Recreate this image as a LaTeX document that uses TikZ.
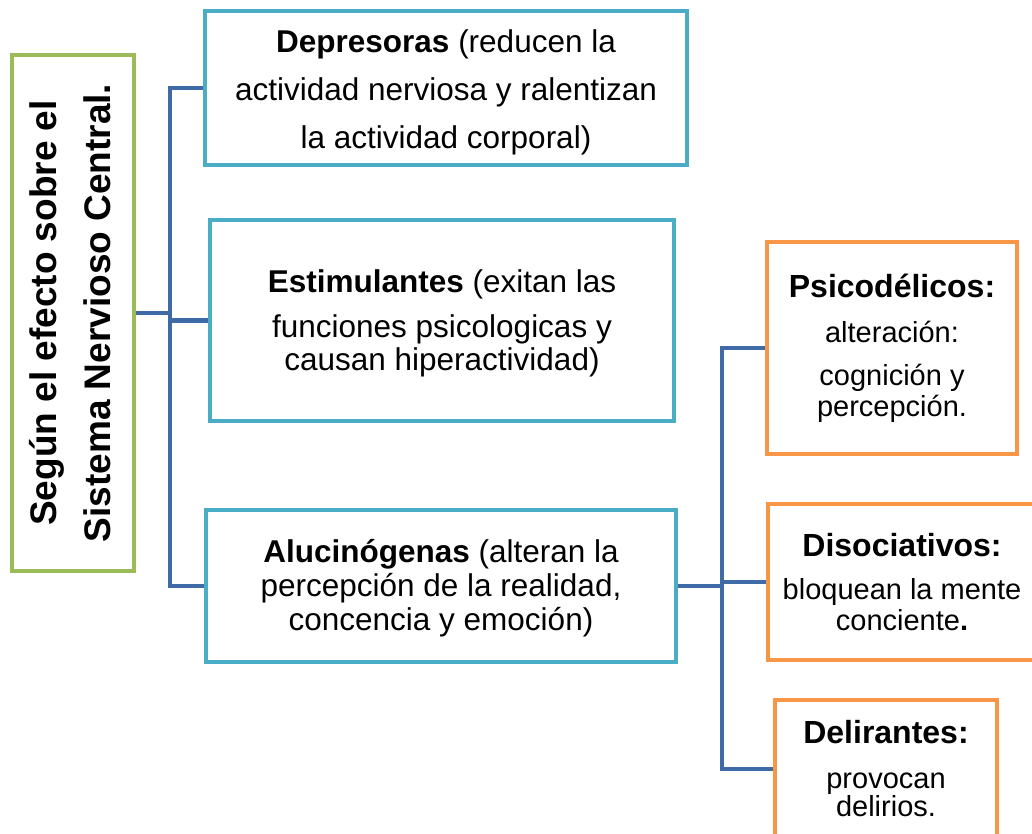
\documentclass[tikz,border=0pt]{standalone}
\usepackage{fontspec}
\setmainfont{Liberation Sans}
\usetikzlibrary{positioning}

\definecolor{raizverde}{HTML}{9BBB59}
\definecolor{cajaazul}{HTML}{4BACC6}
\definecolor{cajanaranja}{HTML}{F79646}
\definecolor{conector}{HTML}{3E6BA5}

\newcommand{\titulosub}[1]{{\fontsize{32}{33}\selectfont\bfseries #1}}

\tikzset{
  raiz/.style={draw=raizverde, line width=4pt, fill=white, inner sep=0pt, align=center,
    font=\fontsize{37}{54}\selectfont\bfseries},
  caja/.style={draw=cajaazul, line width=4pt, fill=white, inner sep=0pt, align=center,
    font=\fontsize{31.5}{33}\selectfont},
  subcaja/.style={draw=cajanaranja, line width=4pt, fill=white, inner sep=0pt, align=center,
    font=\fontsize{29}{31}\selectfont},
  rama/.style={draw=conector, line width=4.5pt}
}

\begin{document}
\begin{tikzpicture}[x=1pt, y=-1pt]
    \useasboundingbox (0,0) rectangle (1032,834);

    % Clasificación principal
    \node[raiz, minimum width=122, minimum height=516] (raiz) at (73,313)
        {\rotatebox{90}{\begin{tabular}{@{}c@{}}Según el efecto sobre el\\Sistema Nervioso Central.\end{tabular}}};

    % Tipos de drogas
    \node[caja, minimum width=482, minimum height=154] (depre) at (446,88)
        {\rule{0pt}{32pt}\textbf{Depresoras} (reducen la\\[15pt] actividad nerviosa y ralentizan\\[15pt] la actividad corporal)};
    \node[caja, minimum width=464, minimum height=201] (estim) at (442,320.5)
        {\rule{0pt}{28pt}\textbf{Estimulantes} (exitan las\\[12pt] funciones psicologicas y\\ causan hiperactividad)};
    \node[caja, minimum width=470, minimum height=152, font=\fontsize{31.5}{34}\selectfont] (aluci) at (441,586)
        {\rule{0pt}{27pt}\textbf{Alucinógenas} (alteran la\\ percepción de la realidad,\\ concencia y emoción)};

    % Subtipos de alucinógenas
    \node[subcaja, minimum width=250, minimum height=212] (psico) at (892,348)
        {\titulosub{Psicodélicos:}\\[14pt] alteración:\\[12pt] cognición y\\ percepción.};
    \node[subcaja, minimum width=268, minimum height=156] (disoc) at (902,582)
        {\titulosub{Disociativos:}\\[12pt] bloquean la mente\\ conciente\textbf{.}};
    \node[subcaja, minimum width=222, minimum height=138] (delir) at (886,769)
        {\titulosub{Delirantes:}\\[14pt] provocan\\[-3pt] delirios.};

    % Conectores
    \coordinate (busA) at (170,0);
    \coordinate (busB) at (722,0);
    \draw[rama] (raiz.east) -- (raiz.east -| busA);
    \draw[rama] (depre.west) -- (depre.west -| busA) -- (aluci.west -| busA) -- (aluci.west);
    \draw[rama] (estim.west) -- (estim.west -| busA);
    \draw[rama] (aluci.east) -- (aluci.east -| busB);
    \draw[rama] (psico.west) -- (psico.west -| busB) -- (delir.west -| busB) -- (delir.west);
    \draw[rama] (disoc.west) -- (disoc.west -| busB);
\end{tikzpicture}
\end{document}
